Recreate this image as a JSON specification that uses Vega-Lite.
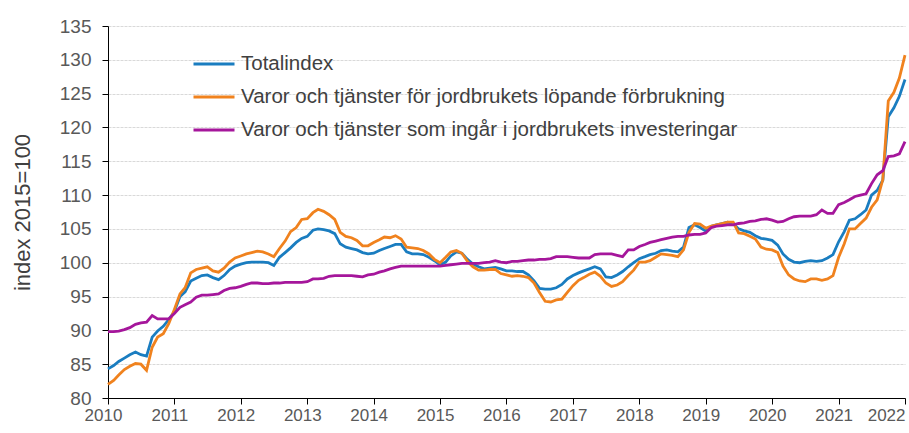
{
  "$schema": "https://vega.github.io/schema/vega-lite/v6.json",
  "width": 797,
  "height": 372,
  "autosize": {"type": "none"},
  "padding": {"left": 108, "top": 26, "right": 4, "bottom": 35},
  "background": "white",
  "config": {"view": {"stroke": null}, "font": "Liberation Sans"},
  "data": {"values": [
    {"d":"2010-01-01","T":84.3,"C":82.0,"I":89.8},
    {"d":"2010-02-01","T":84.8,"C":82.6,"I":89.8},
    {"d":"2010-03-01","T":85.4,"C":83.4,"I":89.9},
    {"d":"2010-04-01","T":85.9,"C":84.2,"I":90.1},
    {"d":"2010-05-01","T":86.4,"C":84.7,"I":90.4},
    {"d":"2010-06-01","T":86.8,"C":85.1,"I":90.9},
    {"d":"2010-07-01","T":86.4,"C":85.0,"I":91.1},
    {"d":"2010-08-01","T":86.2,"C":84.1,"I":91.2},
    {"d":"2010-09-01","T":89.0,"C":87.5,"I":92.2},
    {"d":"2010-10-01","T":89.9,"C":89.0,"I":91.7},
    {"d":"2010-11-01","T":90.6,"C":89.5,"I":91.7},
    {"d":"2010-12-01","T":91.6,"C":91.0,"I":91.7},
    {"d":"2011-01-01","T":92.8,"C":93.1,"I":92.5},
    {"d":"2011-02-01","T":95.0,"C":95.4,"I":93.4},
    {"d":"2011-03-01","T":95.7,"C":96.3,"I":93.8},
    {"d":"2011-04-01","T":97.3,"C":98.5,"I":94.2},
    {"d":"2011-05-01","T":97.7,"C":99.0,"I":94.9},
    {"d":"2011-06-01","T":98.1,"C":99.2,"I":95.2},
    {"d":"2011-07-01","T":98.2,"C":99.4,"I":95.2},
    {"d":"2011-08-01","T":97.8,"C":98.8,"I":95.3},
    {"d":"2011-09-01","T":97.5,"C":98.6,"I":95.4},
    {"d":"2011-10-01","T":98.1,"C":99.2,"I":95.9},
    {"d":"2011-11-01","T":99.0,"C":100.1,"I":96.2},
    {"d":"2011-12-01","T":99.5,"C":100.7,"I":96.3},
    {"d":"2012-01-01","T":99.8,"C":101.0,"I":96.5},
    {"d":"2012-02-01","T":100.0,"C":101.3,"I":96.8},
    {"d":"2012-03-01","T":100.1,"C":101.5,"I":97.0},
    {"d":"2012-04-01","T":100.1,"C":101.7,"I":97.0},
    {"d":"2012-05-01","T":100.1,"C":101.6,"I":96.9},
    {"d":"2012-06-01","T":100.0,"C":101.3,"I":96.9},
    {"d":"2012-07-01","T":99.6,"C":100.9,"I":97.0},
    {"d":"2012-08-01","T":100.8,"C":102.1,"I":97.0},
    {"d":"2012-09-01","T":101.5,"C":103.2,"I":97.1},
    {"d":"2012-10-01","T":102.2,"C":104.6,"I":97.1},
    {"d":"2012-11-01","T":103.0,"C":105.2,"I":97.1},
    {"d":"2012-12-01","T":103.6,"C":106.4,"I":97.1},
    {"d":"2013-01-01","T":103.9,"C":106.5,"I":97.2},
    {"d":"2013-02-01","T":104.8,"C":107.4,"I":97.6},
    {"d":"2013-03-01","T":105.0,"C":107.9,"I":97.6},
    {"d":"2013-04-01","T":104.9,"C":107.6,"I":97.7},
    {"d":"2013-05-01","T":104.7,"C":107.1,"I":98.0},
    {"d":"2013-06-01","T":104.3,"C":106.4,"I":98.1},
    {"d":"2013-07-01","T":102.8,"C":104.5,"I":98.1},
    {"d":"2013-08-01","T":102.3,"C":103.9,"I":98.1},
    {"d":"2013-09-01","T":102.1,"C":103.7,"I":98.1},
    {"d":"2013-10-01","T":101.9,"C":103.3,"I":98.0},
    {"d":"2013-11-01","T":101.5,"C":102.5,"I":97.9},
    {"d":"2013-12-01","T":101.3,"C":102.5,"I":98.2},
    {"d":"2014-01-01","T":101.4,"C":103.0,"I":98.3},
    {"d":"2014-02-01","T":101.8,"C":103.4,"I":98.6},
    {"d":"2014-03-01","T":102.1,"C":103.8,"I":98.8},
    {"d":"2014-04-01","T":102.4,"C":103.7,"I":99.1},
    {"d":"2014-05-01","T":102.7,"C":104.0,"I":99.3},
    {"d":"2014-06-01","T":102.7,"C":103.5,"I":99.5},
    {"d":"2014-07-01","T":101.6,"C":102.3,"I":99.5},
    {"d":"2014-08-01","T":101.3,"C":102.2,"I":99.5},
    {"d":"2014-09-01","T":101.3,"C":102.1,"I":99.5},
    {"d":"2014-10-01","T":101.2,"C":101.8,"I":99.5},
    {"d":"2014-11-01","T":100.8,"C":101.3,"I":99.5},
    {"d":"2014-12-01","T":100.3,"C":100.5,"I":99.5},
    {"d":"2015-01-01","T":99.7,"C":100.0,"I":99.5},
    {"d":"2015-02-01","T":100.1,"C":100.8,"I":99.6},
    {"d":"2015-03-01","T":101.0,"C":101.6,"I":99.7},
    {"d":"2015-04-01","T":101.6,"C":101.8,"I":99.8},
    {"d":"2015-05-01","T":101.4,"C":101.4,"I":99.9},
    {"d":"2015-06-01","T":100.5,"C":100.2,"I":99.9},
    {"d":"2015-07-01","T":99.8,"C":99.4,"I":99.9},
    {"d":"2015-08-01","T":99.4,"C":98.9,"I":99.9},
    {"d":"2015-09-01","T":99.1,"C":98.9,"I":100.0},
    {"d":"2015-10-01","T":99.2,"C":99.0,"I":100.1},
    {"d":"2015-11-01","T":99.3,"C":99.0,"I":100.3},
    {"d":"2015-12-01","T":99.1,"C":98.4,"I":100.1},
    {"d":"2016-01-01","T":98.8,"C":98.2,"I":100.0},
    {"d":"2016-02-01","T":98.8,"C":98.0,"I":100.2},
    {"d":"2016-03-01","T":98.7,"C":98.1,"I":100.2},
    {"d":"2016-04-01","T":98.7,"C":98.0,"I":100.3},
    {"d":"2016-05-01","T":98.2,"C":97.8,"I":100.4},
    {"d":"2016-06-01","T":97.3,"C":97.0,"I":100.4},
    {"d":"2016-07-01","T":96.2,"C":95.6,"I":100.5},
    {"d":"2016-08-01","T":96.1,"C":94.3,"I":100.5},
    {"d":"2016-09-01","T":96.1,"C":94.2,"I":100.6},
    {"d":"2016-10-01","T":96.3,"C":94.5,"I":100.9},
    {"d":"2016-11-01","T":96.8,"C":94.6,"I":100.9},
    {"d":"2016-12-01","T":97.6,"C":95.6,"I":100.9},
    {"d":"2017-01-01","T":98.1,"C":96.6,"I":100.8},
    {"d":"2017-02-01","T":98.5,"C":97.4,"I":100.7},
    {"d":"2017-03-01","T":98.8,"C":97.8,"I":100.7},
    {"d":"2017-04-01","T":99.1,"C":98.3,"I":100.7},
    {"d":"2017-05-01","T":99.4,"C":98.6,"I":101.2},
    {"d":"2017-06-01","T":99.1,"C":98.0,"I":101.3},
    {"d":"2017-07-01","T":97.9,"C":97.0,"I":101.3},
    {"d":"2017-08-01","T":97.8,"C":96.5,"I":101.3},
    {"d":"2017-09-01","T":98.2,"C":96.7,"I":101.1},
    {"d":"2017-10-01","T":98.7,"C":97.2,"I":100.9},
    {"d":"2017-11-01","T":99.4,"C":98.1,"I":101.9},
    {"d":"2017-12-01","T":100.0,"C":98.9,"I":101.9},
    {"d":"2018-01-01","T":100.6,"C":100.1,"I":102.4},
    {"d":"2018-02-01","T":100.9,"C":100.1,"I":102.7},
    {"d":"2018-03-01","T":101.2,"C":100.3,"I":103.0},
    {"d":"2018-04-01","T":101.4,"C":100.8,"I":103.2},
    {"d":"2018-05-01","T":101.8,"C":101.3,"I":103.4},
    {"d":"2018-06-01","T":101.9,"C":101.2,"I":103.6},
    {"d":"2018-07-01","T":101.7,"C":101.1,"I":103.8},
    {"d":"2018-08-01","T":101.6,"C":100.9,"I":103.9},
    {"d":"2018-09-01","T":102.3,"C":101.9,"I":103.9},
    {"d":"2018-10-01","T":105.2,"C":104.5,"I":104.1},
    {"d":"2018-11-01","T":105.6,"C":105.8,"I":104.2},
    {"d":"2018-12-01","T":105.2,"C":105.7,"I":104.2},
    {"d":"2019-01-01","T":104.7,"C":105.1,"I":104.4},
    {"d":"2019-02-01","T":105.4,"C":105.4,"I":105.2},
    {"d":"2019-03-01","T":105.6,"C":105.6,"I":105.4},
    {"d":"2019-04-01","T":105.8,"C":105.8,"I":105.5},
    {"d":"2019-05-01","T":106.0,"C":106.0,"I":105.6},
    {"d":"2019-06-01","T":105.8,"C":106.0,"I":105.6},
    {"d":"2019-07-01","T":105.0,"C":104.4,"I":105.8},
    {"d":"2019-08-01","T":104.7,"C":104.3,"I":105.9},
    {"d":"2019-09-01","T":104.5,"C":103.9,"I":106.1},
    {"d":"2019-10-01","T":104.0,"C":103.5,"I":106.2},
    {"d":"2019-11-01","T":103.6,"C":102.3,"I":106.4},
    {"d":"2019-12-01","T":103.5,"C":102.0,"I":106.5},
    {"d":"2020-01-01","T":103.3,"C":101.9,"I":106.3},
    {"d":"2020-02-01","T":102.6,"C":101.5,"I":106.0},
    {"d":"2020-03-01","T":101.3,"C":99.5,"I":106.1},
    {"d":"2020-04-01","T":100.5,"C":98.2,"I":106.5},
    {"d":"2020-05-01","T":100.1,"C":97.6,"I":106.8},
    {"d":"2020-06-01","T":100.0,"C":97.3,"I":106.9},
    {"d":"2020-07-01","T":100.2,"C":97.2,"I":106.9},
    {"d":"2020-08-01","T":100.3,"C":97.6,"I":106.9},
    {"d":"2020-09-01","T":100.2,"C":97.6,"I":107.1},
    {"d":"2020-10-01","T":100.3,"C":97.4,"I":107.8},
    {"d":"2020-11-01","T":100.7,"C":97.6,"I":107.3},
    {"d":"2020-12-01","T":101.2,"C":98.1,"I":107.3},
    {"d":"2021-01-01","T":103.1,"C":100.8,"I":108.6},
    {"d":"2021-02-01","T":104.6,"C":102.8,"I":108.9},
    {"d":"2021-03-01","T":106.3,"C":105.0,"I":109.3},
    {"d":"2021-04-01","T":106.5,"C":105.0,"I":109.8},
    {"d":"2021-05-01","T":107.1,"C":105.8,"I":110.0},
    {"d":"2021-06-01","T":107.8,"C":106.6,"I":110.2},
    {"d":"2021-07-01","T":110.0,"C":108.2,"I":111.7},
    {"d":"2021-08-01","T":110.7,"C":109.3,"I":113.0},
    {"d":"2021-09-01","T":112.2,"C":112.3,"I":113.6},
    {"d":"2021-10-01","T":121.6,"C":123.9,"I":115.7},
    {"d":"2021-11-01","T":122.9,"C":125.2,"I":115.8},
    {"d":"2021-12-01","T":124.6,"C":127.3,"I":116.1},
    {"d":"2022-01-01","T":127.1,"C":130.7,"I":117.9}
  ]},
  "transform": [{"fold": ["T", "C", "I"], "as": ["s", "v"]}],
  "mark": {"type": "line", "strokeWidth": 2.8},
  "encoding": {
    "x": {
      "field": "d", "type": "temporal",
      "scale": {"type": "utc", "domain": ["2010-01-01", "2022-01-01"]},
      "axis": {
        "title": null, "grid": false, "format": "%Y",
        "tickCount": {"interval": "year", "step": 1},
        "domainColor": "#000000", "tickColor": "#000000", "tickSize": 6,
        "labelFontSize": 17, "labelColor": "#595959", "labelPadding": 3,
        "labelAlign": {"condition": {"test": "utcyear(datum.value) == 2022", "value": "right"}, "value": "center"},
        "labelOffset": {"condition": {"test": "utcyear(datum.value) == 2022", "value": 0}, "value": -5}
      }
    },
    "y": {
      "field": "v", "type": "quantitative",
      "scale": {"domain": [80, 135], "nice": false, "zero": false},
      "axis": {
        "title": "index  2015=100", "titleFontSize": 22, "titleFontWeight": "normal", "titleColor": "#404040",
        "titlePadding": 25,
        "values": [80, 85, 90, 95, 100, 105, 110, 115, 120, 125, 130, 135],
        "grid": true, "gridColor": "#d9d9d9", "gridDash": [3, 1],
        "domainColor": "#000000", "tickColor": "#000000", "tickSize": 6,
        "labelFontSize": 19, "labelColor": "#595959", "labelPadding": 11
      }
    },
    "color": {
      "field": "s", "type": "nominal",
      "scale": {"domain": ["T", "C", "I"], "range": ["#1a7dc0", "#f0821e", "#a5169b"]},
      "legend": {
        "title": null, "orient": "none", "legendX": 84, "legendY": 16,
        "symbolType": "stroke", "symbolSize": 1681, "symbolStrokeWidth": 2.8,
        "labelFontSize": 20.5, "labelColor": "#404040", "labelOffset": 5, "labelLimit": 0,
        "rowPadding": -10,
        "labelExpr": "datum.label == 'T' ? 'Totalindex' : datum.label == 'C' ? 'Varor och tjänster för jordbrukets löpande förbrukning' : 'Varor och tjänster som ingår i jordbrukets investeringar'"
      }
    }
  }
}
